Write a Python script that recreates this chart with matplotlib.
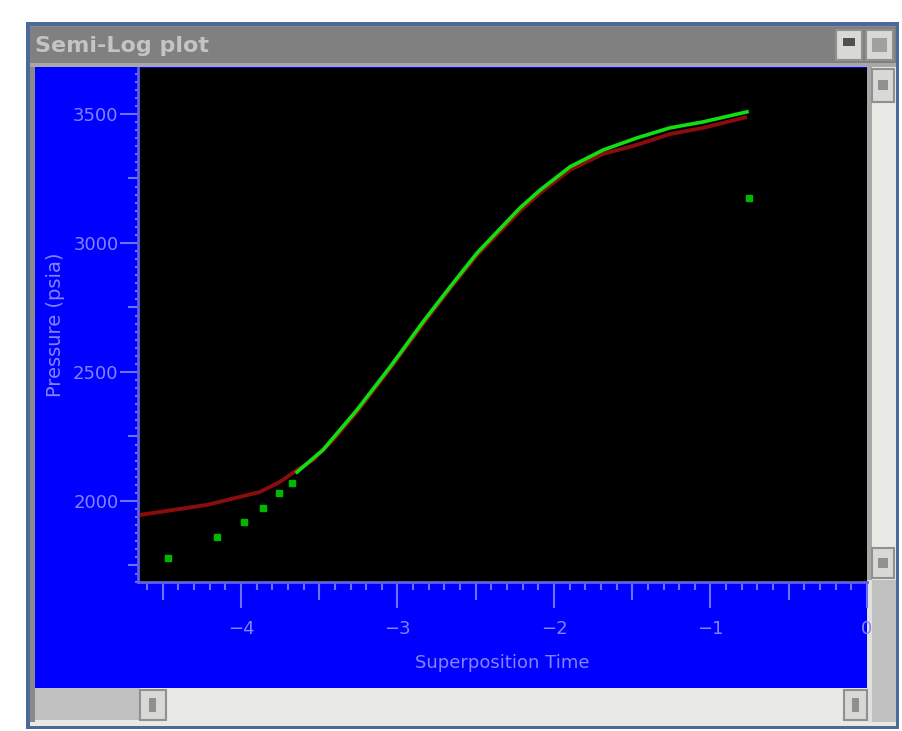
import numpy as np
import matplotlib
matplotlib.use("Agg")
import matplotlib.pyplot as plt
from matplotlib.patches import Rectangle
from matplotlib.ticker import MultipleLocator, FixedLocator, NullFormatter

# model curve (red)
model_t = [-4.645, -4.435, -4.217, -4.006, -3.879, -3.751, -3.642, -3.540, -3.412,
           -3.259, -3.048, -2.837, -2.665, -2.492, -2.217, -2.089, -1.898, -1.687,
           -1.470, -1.259, -1.048, -0.767]
model_p = [1946, 1965, 1985, 2016, 2035, 2074, 2120, 2159, 2236,
           2345, 2512, 2686, 2822, 2953, 3124, 3194, 3283, 3345,
           3380, 3422, 3446, 3488]

# measured curve (green line)
meas_t = [-3.642, -3.476, -3.259, -3.048, -2.837, -2.665, -2.492, -2.217, -2.089,
          -1.898, -1.687, -1.470, -1.259, -1.048, -0.767]
meas_p = [2112, 2198, 2353, 2519, 2694, 2829, 2961, 3136, 3205,
          3295, 3360, 3407, 3446, 3469, 3508]

# measured points (green dots)
pts_t = [-4.466, -4.153, -3.981, -3.859, -3.757, -3.674, -0.754]
pts_p = [1779, 1860, 1919, 1973, 2031, 2070, 3174]

W, H = 903, 731
fig = plt.figure(figsize=(W / 100, H / 100), dpi=100)
fig.patch.set_facecolor("white")

# window chrome drawn in pixel coordinates
bg = fig.add_axes([0, 0, 1, 1])
bg.set_xlim(0, W)
bg.set_ylim(H, 0)
bg.axis("off")


def box(x0, y0, x1, y1, color, **kw):
    bg.add_patch(Rectangle((x0, y0), x1 - x0, y1 - y0, facecolor=color,
                           edgecolor=kw.pop("ec", "none"), lw=kw.pop("lw", 0), **kw))


box(26, 22, 899, 729, "#4a6a9a")
box(30, 26, 896, 726, "#8a8a8a")
box(30, 27, 896, 63, "#808080")
box(30, 63, 896, 67, "#a8a8a8")
bg.text(35, 46, "Semi-Log plot", color="#c4c4c4", fontsize=16, fontweight="bold",
        va="center", ha="left")
# title bar buttons
box(836, 30, 862, 60, "#d8d8d4", ec="#909090", lw=1.5)
box(843, 38, 855, 46, "#505050")
box(866, 30, 893, 60, "#d8d8d4", ec="#909090", lw=1.5)
box(872, 38, 887, 52, "#a0a0a0")

# blue client area
box(35, 67, 867, 688, "#0000ff")
# vertical scrollbar
box(867, 67, 896, 580, "#e8e8e4")
box(867, 67, 872, 580, "#a8a8a8")
box(872, 69, 894, 102, "#d8d8d4", ec="#909090", lw=1.5)
box(878, 80, 888, 90, "#909090")
box(872, 548, 894, 578, "#d8d8d4", ec="#909090", lw=1.5)
box(878, 558, 888, 568, "#909090")
box(867, 580, 896, 722, "#c0c0c0")
box(867, 580, 872, 722, "#e0e0dc")
# horizontal scrollbar
box(35, 688, 867, 722, "#e8e8e4")
box(35, 688, 140, 720, "#c0c0c0")
box(140, 690, 166, 720, "#d8d8d4", ec="#909090", lw=1.5)
box(149, 698, 156, 712, "#909090")
box(844, 690, 867, 720, "#d8d8d4", ec="#909090", lw=1.5)
box(852, 698, 859, 712, "#909090")
box(30, 722, 896, 726, "#e8e8e4")

# plot area
ax = fig.add_axes([138 / W, (H - 582) / H, (867 - 138) / W, (582 - 68) / H])
ax.set_facecolor("black")
ax.set_xlim(-4.658, 0.0)
ax.set_ylim(1686, 3678)

ax.plot(model_t, model_p, color="#8a0c0c", lw=2.8, solid_capstyle="butt", zorder=2)
ax.plot(meas_t, meas_p, color="#10e010", lw=2.6, zorder=3)
ax.plot(pts_t, pts_p, linestyle="none", marker="s", ms=4.5,
        color="#00b800", mec="#00b800", zorder=4)

tick_col = "#7070ff"
txt_col = "#8484ff"
for side in ["top", "right"]:
    ax.spines[side].set_visible(False)
for side in ["left", "bottom"]:
    ax.spines[side].set_color("#6060e0")
    ax.spines[side].set_linewidth(2)

ax.xaxis.set_major_locator(MultipleLocator(1))
ax.xaxis.set_minor_locator(MultipleLocator(0.1))
ax.yaxis.set_major_locator(MultipleLocator(500))
ax.yaxis.set_minor_locator(MultipleLocator(250 / 8))
ax.tick_params(axis="x", which="major", length=19, width=1.5, color=tick_col,
               labelcolor=txt_col, labelsize=13, pad=8)
ax.tick_params(axis="x", which="minor", length=6, width=1.5, color=tick_col)
ax.tick_params(axis="y", which="major", length=13, width=1.5, color=tick_col,
               labelcolor=txt_col, labelsize=13, pad=1)
ax.tick_params(axis="y", which="minor", length=2.5, width=1.5, color=tick_col)

# half-step ticks
sx = ax.secondary_xaxis("bottom")
sx.xaxis.set_major_locator(FixedLocator([-4.5, -3.5, -2.5, -1.5, -0.5]))
sx.xaxis.set_major_formatter(NullFormatter())
sx.tick_params(length=13, width=1.5, color=tick_col)
sx.spines["bottom"].set_visible(False)
sy = ax.secondary_yaxis("left")
sy.yaxis.set_major_locator(FixedLocator([1750, 2250, 2750, 3250]))
sy.yaxis.set_major_formatter(NullFormatter())
sy.tick_params(length=7, width=1.5, color=tick_col)
sy.spines["left"].set_visible(False)

ax.set_xlabel("Superposition Time", color=txt_col, fontsize=13, labelpad=12)
ax.set_ylabel("Pressure (psia)", color=txt_col, fontsize=14, labelpad=6)

fig.savefig("out.png", dpi=100, facecolor="white")
